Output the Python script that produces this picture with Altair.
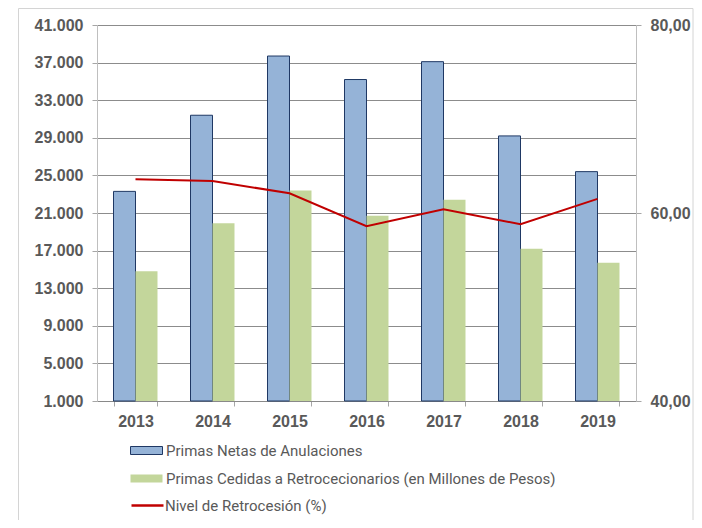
import altair as alt
import pandas as pd

years = ["2013", "2014", "2015", "2016", "2017", "2018", "2019"]
primas_netas = [23300, 31400, 37700, 35200, 37100, 29200, 25400]
primas_cedidas = [14800, 19900, 23400, 20700, 22400, 17200, 15700]
nivel = [63.6, 63.4, 62.1, 58.6, 60.4, 58.8, 61.5]

S1 = "Primas Netas de Anulaciones"
S2 = "Primas Cedidas a Retrocecionarios (en Millones de Pesos)"
S3 = "Nivel de Retrocesión (%)"
left_ticks = list(range(1000, 41001, 4000))
right_ticks = [40, 60, 80]

BLUE = "#95B3D7"
NAVY = "#1F3864"
GREEN = "#C3D69B"
RED = "#C00000"
LABEL = "#595959"
AXISFONT = "Liberation Sans"
AXISSIZE = 16

df_bars = pd.DataFrame({
    "year": years * 2,
    "serie": [S1] * len(years) + [S2] * len(years),
    "valor": primas_netas + primas_cedidas,
})
df_line = pd.DataFrame({"year": years, "serie": [S3] * len(years), "nivel": nivel})

xscale = alt.Scale(domain=years, paddingInner=0.4286, paddingOuter=0.2143)
xaxis = alt.Axis(title=None, labelAngle=0, tickBand="extent", labelFont=AXISFONT,
                 labelFontSize=AXISSIZE, labelFontWeight="bold", labelColor=LABEL,
                 labelPadding=7, tickSize=5, tickColor="#A6A6A6", domainColor="#898989",
                 grid=False)

frame = alt.Chart(pd.DataFrame({"k": [0]})).mark_rect(
    fill="transparent", stroke="#D4D4D4", strokeWidth=1
).encode(x=alt.value(-78.5), x2=alt.value(596), y=alt.value(-16.5), y2=alt.value(600))

bars = alt.Chart(df_bars).mark_bar().encode(
    x=alt.X("year:N", scale=xscale, axis=xaxis),
    xOffset=alt.XOffset("serie:N", scale=alt.Scale(domain=[S1, S2], paddingInner=0, paddingOuter=0)),
    y=alt.Y("valor:Q",
            scale=alt.Scale(domain=[1000, 41000], zero=False, nice=False),
            axis=alt.Axis(title=None, values=left_ticks,
                          labelExpr="replace(format(datum.value, ',d'), ',', '.')",
                          labelFont=AXISFONT, labelFontSize=AXISSIZE, labelFontWeight="bold",
                          labelColor=LABEL, labelPadding=9, tickSize=5, tickColor="#A6A6A6",
                          domainColor="#BFBFBF", grid=True, gridColor="#8C8C8C", gridWidth=1)),
    y2=alt.datum(1000),
    fill=alt.Fill("serie:N", scale=alt.Scale(domain=[S1, S2], range=[BLUE, GREEN]),
                  legend=alt.Legend(title=None, orient="none", legendX=41, legendY=417,
                                    direction="vertical",
                                    symbolType="M-2,-0.5H2V0.5H-2Z", symbolSize=256,
                                    symbolStrokeWidth=1, symbolOpacity=1,
                                    symbolStrokeColor=alt.ExprRef(
                                        expr="datum.value === '" + S1 + "' ? '" + NAVY + "' : 'transparent'"),
                                    labelFont="Roboto", labelFontSize=15, labelColor=LABEL,
                                    labelOffset=11, labelLimit=600, rowPadding=11)),
    stroke=alt.value(NAVY),
    strokeWidth=alt.condition(alt.datum.serie == S1, alt.value(1), alt.value(0)),
)

line = alt.Chart(df_line).mark_line(strokeWidth=2).encode(
    x=alt.X("year:N", scale=xscale, axis=xaxis),
    y=alt.Y("nivel:Q",
            scale=alt.Scale(domain=[40, 80], zero=False, nice=False),
            axis=alt.Axis(title=None, orient="right", values=right_ticks,
                          labelExpr="replace(format(datum.value, '.2f'), '.', ',')",
                          labelFont=AXISFONT, labelFontSize=AXISSIZE, labelFontWeight="bold",
                          labelColor=LABEL, labelPadding=9, tickSize=5, tickColor="#A6A6A6",
                          domainColor="#BFBFBF", grid=False)),
    stroke=alt.Stroke("serie:N", scale=alt.Scale(domain=[S3], range=[RED]),
                      legend=alt.Legend(title=None, orient="none", legendX=41, legendY=471,
                                        symbolType="M-2,0H2", symbolSize=256,
                                        symbolStrokeWidth=2.5,
                                        labelFont="Roboto", labelFontSize=15, labelColor=LABEL,
                                        labelOffset=8, labelLimit=600)),
)

chart = alt.layer(frame, bars, line).resolve_scale(y="independent").properties(
    width=539, height=376,
    autosize=alt.AutoSizeParams(type="none"),
    padding={"left": 89, "top": 17, "right": 58, "bottom": 119},
    background="white",
).configure_view(strokeWidth=0)

chart.save("out.html", embed_options={"renderer": "svg", "actions": False})
